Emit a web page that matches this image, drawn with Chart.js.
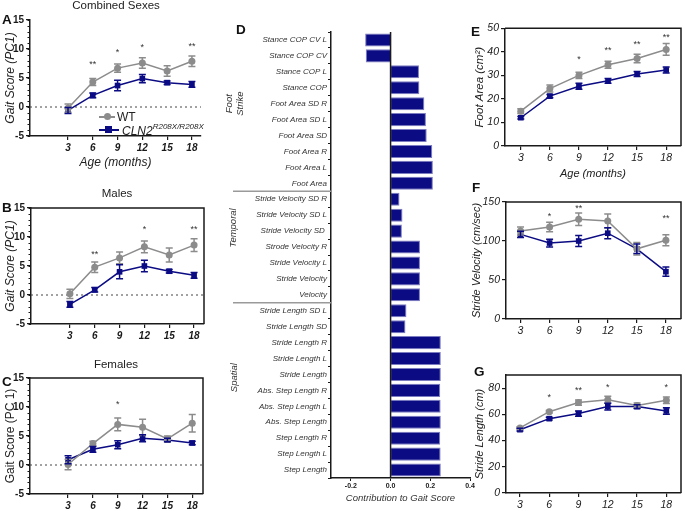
<!DOCTYPE html>
<html>
<head>
<meta charset="utf-8">
<script src="https://cdn.jsdelivr.net/npm/chart.js@4.4.1/dist/chart.umd.min.js"></script>
<style>
  body { margin: 0; width: 685px; height: 511px; position: relative; background: #fff; overflow: hidden;
         font-family: "Liberation Sans", Arial, sans-serif; color: #111; }
  canvas { position: absolute; }
  .letter { position: absolute; font-weight: bold; font-size: 13.5px; line-height: 1; }
  .title { position: absolute; font-size: 11.5px; line-height: 1; transform: translateX(-50%); white-space: nowrap; color: #222; }
  .leg { position: absolute; font-size: 12px; line-height: 1; white-space: nowrap; color: #222; }
  .leg .sw { position: absolute; width: 16px; height: 2px; }
  .leg .mk { position: absolute; width: 7px; height: 7px; }
  .leg sup { font-size: 8px; font-style: italic; position: relative; top: -1px; }
</style>
</head>
<body>
<canvas id="cA" width="210" height="162" style="left:0;top:10px"></canvas>
<canvas id="cB" width="213" height="150" style="left:0;top:195px"></canvas>
<canvas id="cC" width="212" height="146" style="left:0;top:365px"></canvas>
<canvas id="cD" width="252" height="485" style="left:225px;top:20px"></canvas>
<canvas id="cE" width="215" height="162" style="left:470px;top:20px"></canvas>
<canvas id="cF" width="215" height="160" style="left:470px;top:180px"></canvas>
<canvas id="cG" width="215" height="151" style="left:470px;top:360px"></canvas>

<div class="letter" style="left:2px;top:13px">A</div>
<div class="letter" style="left:2px;top:201px">B</div>
<div class="letter" style="left:2px;top:375px">C</div>
<div class="letter" style="left:236px;top:23px">D</div>
<div class="letter" style="left:471px;top:25px">E</div>
<div class="letter" style="left:472px;top:181px">F</div>
<div class="letter" style="left:474px;top:365px">G</div>

<div class="title" style="left:116px;top:0px">Combined Sexes</div>
<div class="title" style="left:117px;top:188px">Males</div>
<div class="title" style="left:116px;top:359px">Females</div>
<div id="legend"></div>

<script>
const GREY = "#8c8c8c";
const NAVY = "#0b0b84";
const INK = "#1a1a1a";
const FONT = "'Liberation Sans', Arial, sans-serif";

const ages = [3, 6, 9, 12, 15, 18];
const gaitTicks = [-5, 0, 5, 10, 15];

// A - combined sexes, gait score
const aWT = [-0.2, 4.3, 6.7, 7.6, 6.2, 7.9];
const aWTErr = [0.7, 0.6, 0.7, 0.9, 0.9, 0.9];
const aCLN = [-0.6, 2.0, 3.7, 4.9, 4.2, 3.9];
const aCLNErr = [0.5, 0.4, 0.9, 0.7, 0.3, 0.5];
const aSig = ["", "**", "*", "*", "", "**"];
const aSigY = [0, 7.8, 9.8, 10.7, 0, 10.8];

// B - males
const bWT = [0.2, 4.8, 6.4, 8.3, 6.9, 8.6];
const bWTErr = [0.8, 0.9, 1.0, 1.0, 1.2, 1.1];
const bCLN = [-1.6, 0.9, 4.0, 5.0, 4.1, 3.4];
const bCLNErr = [0.5, 0.4, 1.2, 1.0, 0.3, 0.5];
const bSig = ["", "**", "", "*", "", "**"];
const bSigY = [0, 7.5, 0, 11.8, 0, 11.8];

// C - females
const cWT = [0.1, 3.7, 7.0, 6.5, 4.5, 7.2];
const cWTErr = [0.9, 0.4, 1.1, 1.4, 0.5, 1.5];
const cCLN = [0.9, 2.7, 3.5, 4.6, 4.3, 3.8];
const cCLNErr = [0.7, 0.5, 0.7, 0.6, 0.3, 0.3];
const cSig = ["", "", "*", "", "", ""];
const cSigY = [0, 0, 10.8, 0, 0, 0];

// D - loadings on PC1
const features = [
  "Stance COP CV L", "Stance COP CV", "Stance COP L", "Stance COP",
  "Foot Area SD R", "Foot Area SD L", "Foot Area SD", "Foot Area R", "Foot Area L", "Foot Area",
  "Stride Velocity SD R", "Stride Velocity SD L", "Stride Velocity SD ", "Strode Velocity R",
  "Stride Velocity L", "Stride Velocity", "Velocity",
  "Stride Length SD L", "Stride Length SD", "Stride Length R", "Stride Length L", "Stride Length",
  "Abs. Step Length R", "Abs. Step Length L", "Abs. Step Length", "Step Length R", "Step Length L", "Step Length"
];
const loadings = [
  -0.128, -0.125, 0.143, 0.145,
  0.170, 0.178, 0.182, 0.210, 0.213, 0.213,
  0.045, 0.060, 0.057, 0.148,
  0.148, 0.148, 0.148,
  0.080, 0.075, 0.253, 0.253, 0.253,
  0.250, 0.252, 0.253, 0.250, 0.252, 0.253
];
const dTicks = [-0.2, 0, 0.2, 0.4];

// E - foot area
const eWT = [14.8, 24.4, 30.0, 34.5, 37.2, 41.0];
const eWTErr = [1.0, 1.5, 1.3, 1.5, 1.8, 2.5];
const eCLN = [12.0, 21.2, 25.4, 27.7, 30.6, 32.3];
const eCLNErr = [0.5, 0.7, 1.3, 1.0, 1.1, 1.3];
const eSig = ["", "", "*", "**", "**", "**"];
const eSigY = [0, 0, 38, 41.6, 44, 47.2];

// F - stride velocity
const fWT = [112.8, 118, 128, 125.6, 90, 101];
const fWTErr = [5, 6, 8, 9, 8, 7];
const fCLN = [108.5, 97.4, 100, 110, 90, 60.7];
const fCLNErr = [4, 5, 7, 7, 6, 6];
const fSig = ["", "*", "**", "", "", "**"];
const fSigY = [0, 134, 145, 0, 0, 132];

// G - stride length
const gWT = [49.6, 62, 69, 71.2, 66.7, 70.7];
const gWTErr = [1, 1, 2, 2.5, 2, 2.5];
const gCLN = [48.3, 56.7, 60.6, 65.9, 65.9, 62.6];
const gCLNErr = [1, 1, 2, 2.5, 1.5, 2.5];
const gSig = ["", "*", "**", "*", "", "*"];
const gSigY = [0, 75, 80, 82, 0, 82];

const fixTicks = (vals) => (s) => { s.ticks = vals.map((v) => ({ value: v })); };

// error bars, asterisks, dotted zero, frame, minor ticks
const extras = {
  id: "extras",
  beforeDatasetsDraw(chart, args, opts) {
    const { ctx, chartArea: a } = chart;
    const y = chart.scales.y;
    ctx.save();
    if (opts.zeroLine) {
      const py = y.getPixelForValue(0);
      ctx.strokeStyle = "#444";
      ctx.lineWidth = 1;
      ctx.setLineDash([2, 3]);
      ctx.beginPath();
      ctx.moveTo(a.left, py);
      ctx.lineTo(a.right, py);
      ctx.stroke();
      ctx.setLineDash([]);
    }
    if (opts.frame) {
      ctx.strokeStyle = INK;
      ctx.lineWidth = 1.5;
      ctx.beginPath();
      ctx.moveTo(a.left, a.top);
      ctx.lineTo(a.right, a.top);
      ctx.lineTo(a.right, a.bottom);
      ctx.stroke();
    }
    if (opts.minor) {
      ctx.strokeStyle = INK;
      ctx.lineWidth = 1;
      for (let v = y.min; v <= y.max; v += opts.minor) {
        const py = Math.round(y.getPixelForValue(v)) + 0.5;
        ctx.beginPath();
        ctx.moveTo(a.left - 2.5, py);
        ctx.lineTo(a.left, py);
        ctx.stroke();
      }
    }
    ctx.restore();
  },
  afterDatasetsDraw(chart, args, opts) {
    const { ctx } = chart;
    const x = chart.scales.x, y = chart.scales.y;
    ctx.save();
    chart.data.datasets.forEach((ds, di) => {
      if (!ds.errors) return;
      const meta = chart.getDatasetMeta(di);
      ctx.strokeStyle = ds.borderColor;
      ctx.lineWidth = 1.5;
      meta.data.forEach((pt, i) => {
        const v = ds.data[i].y, e = ds.errors[i];
        const t = y.getPixelForValue(v + e), b = y.getPixelForValue(v - e);
        ctx.beginPath();
        ctx.moveTo(pt.x, t); ctx.lineTo(pt.x, b);
        ctx.moveTo(pt.x - 3.5, t); ctx.lineTo(pt.x + 3.5, t);
        ctx.moveTo(pt.x - 3.5, b); ctx.lineTo(pt.x + 3.5, b);
        ctx.stroke();
      });
    });
    if (opts.sig) {
      ctx.fillStyle = "#333";
      ctx.font = "9px " + FONT;
      ctx.textAlign = "center";
      ctx.textBaseline = "alphabetic";
      opts.sig.forEach((s, i) => {
        if (!s) return;
        ctx.fillText(s, x.getPixelForValue(ages[i]), y.getPixelForValue(opts.sigY[i]) + 5);
      });
    }
    ctx.restore();
  }
};

function gaitChart(id, c) {
  const series = (label, vals, errs, color, style, r) => ({
    label, data: ages.map((a, i) => ({ x: a, y: vals[i] })), errors: errs,
    borderColor: color, backgroundColor: color, borderWidth: 1.5,
    pointStyle: style, pointRadius: r, pointBorderWidth: 0, tension: 0
  });
  return new Chart(document.getElementById(id), {
    type: "line",
    data: {
      datasets: [
        series("WT", c.wt, c.wtErr, GREY, "circle", 3.5),
        series("CLN2", c.cln, c.clnErr, NAVY, "rect", 4)
      ]
    },
    options: {
      responsive: false,
      animation: false,
      layout: { padding: { top: c.padTop, right: c.padRight, left: 0, bottom: 0 } },
      plugins: {
        legend: { display: false },
        tooltip: { enabled: false },
        extras: { sig: c.sig, sigY: c.sigY, zeroLine: c.zeroLine, frame: c.frame, minor: c.minor }
      },
      scales: {
        x: {
          type: "linear", min: c.xMin, max: c.xMax,
          afterBuildTicks: fixTicks(ages),
          afterFit: (s) => { s.height = c.xH; },
          border: { color: INK, width: 1.5 },
          grid: { drawOnChartArea: false, color: INK, lineWidth: 1.2, tickLength: 4 },
          ticks: { color: INK, padding: 2, maxRotation: 0, font: c.xFont },
          title: { display: !!c.xTitle, text: c.xTitle, color: "#222",
                   font: { family: FONT, size: c.xTitleSize || 12, style: "italic" },
                   padding: { top: 0, bottom: c.xTitlePad || 1.5 } }
        },
        y: {
          min: c.yMin, max: c.yMax,
          afterBuildTicks: fixTicks(c.yTicks),
          afterFit: (s) => { s.width = c.yW; },
          border: { color: INK, width: 1.5 },
          grid: { drawOnChartArea: false, color: INK, lineWidth: 1.2, tickLength: 4 },
          ticks: { color: INK, padding: 2, font: c.yFont },
          title: { display: true, text: c.yTitle, color: "#222",
                   font: { family: FONT, size: c.yTitleSize || 12, style: c.yTitleStyle || "italic" },
                   padding: { top: c.yTitlePad, bottom: 0 } }
        }
      }
    },
    plugins: [extras]
  });
}

const boldItalic = { family: FONT, size: 10, weight: "bold", style: "italic" };
const bold = { family: FONT, size: 10, weight: "bold" };
const italic = { family: FONT, size: 10.5, style: "italic" };

gaitChart("cA", {
  wt: aWT, wtErr: aWTErr, cln: aCLN, clnErr: aCLNErr, sig: aSig, sigY: aSigY,
  padTop: 10, padRight: 9, xH: 36, yW: 30, xMin: -1.6, xMax: 19.1,
  yMin: -5, yMax: 15, yTicks: gaitTicks, minor: 1, zeroLine: true, frame: false,
  xFont: boldItalic, yFont: bold, xTitle: "Age (months)", xTitlePad: 1.8,
  yTitle: "Gait Score (PC1)", yTitlePad: 3
});
gaitChart("cB", {
  wt: bWT, wtErr: bWTErr, cln: bCLN, clnErr: bCLNErr, sig: bSig, sigY: bSigY,
  padTop: 13, padRight: 9, xH: 21, yW: 31, xMin: -1.7, xMax: 19.2,
  yMin: -5, yMax: 15, yTicks: gaitTicks, minor: 1, zeroLine: true, frame: true,
  xFont: boldItalic, yFont: bold, yTitle: "Gait Score (PC1)", yTitlePad: 3
});
gaitChart("cC", {
  wt: cWT, wtErr: cWTErr, cln: cCLN, clnErr: cCLNErr, sig: cSig, sigY: cSigY,
  padTop: 13, padRight: 9, xH: 17, yW: 30, xMin: -1.6, xMax: 19.3,
  yMin: -5, yMax: 15, yTicks: gaitTicks, minor: 1, zeroLine: true, frame: true,
  xFont: boldItalic, yFont: bold, yTitle: "Gait Score (PC 1)", yTitleStyle: "normal", yTitlePad: 3
});
gaitChart("cE", {
  wt: eWT, wtErr: eWTErr, cln: eCLN, clnErr: eCLNErr, sig: eSig, sigY: eSigY,
  padTop: 7, padRight: 2, xH: 36, yW: 35, xMin: 1.37, xMax: 19.53,
  yMin: 0, yMax: 50, yTicks: [0, 10, 20, 30, 40, 50], frame: true,
  xFont: italic, yFont: italic, xTitle: "Age (months)", xTitleSize: 11, xTitlePad: 1.4,
  yTitle: "Foot Area (cm²)", yTitleSize: 11.5, yTitlePad: 3
});
gaitChart("cF", {
  wt: fWT, wtErr: fWTErr, cln: fCLN, clnErr: fCLNErr, sig: fSig, sigY: fSigY,
  padTop: 22, padRight: 2, xH: 21, yW: 36, xMin: 1.5, xMax: 19.56,
  yMin: 0, yMax: 150, yTicks: [0, 50, 100, 150], frame: true,
  xFont: italic, yFont: italic, yTitle: "Stride Velocity (cm/sec)", yTitleSize: 11, yTitlePad: 0
});
gaitChart("cG", {
  wt: gWT, wtErr: gWTErr, cln: gCLN, clnErr: gCLNErr, sig: gSig, sigY: gSigY,
  padTop: 15, padRight: 2, xH: 18, yW: 36, xMin: 1.57, xMax: 19.5,
  yMin: 0, yMax: 90, yTicks: [0, 20, 40, 60, 80], frame: true,
  xFont: italic, yFont: italic, yTitle: "Stride Length (cm)", yTitleSize: 11, yTitlePad: 3
});

// D - horizontal bars with group labels
const groups = {
  id: "groups",
  afterDatasetsDraw(chart) {
    const { ctx, chartArea: a } = chart;
    const x = chart.scales.x, y = chart.scales.y;
    ctx.save();
    ctx.strokeStyle = INK;
    ctx.lineWidth = 1.5;
    const px = x.getPixelForValue(0);
    ctx.beginPath();
    ctx.moveTo(px, a.top);
    ctx.lineTo(px, a.bottom);
    ctx.stroke();
    // separators between feature groups
    ctx.strokeStyle = "#9a9a9a";
    [9.5, 16.5].forEach((v) => {
      const py = y.getPixelForValue(v);
      ctx.beginPath();
      ctx.moveTo(8, py);
      ctx.lineTo(a.left, py);
      ctx.stroke();
    });
    ctx.fillStyle = "#333";
    ctx.font = "italic 9.5px " + FONT;
    ctx.textAlign = "center";
    ctx.textBaseline = "middle";
    [[["Foot", "Strike"], 4.0, 10], [["Temporal"], 11.8, 8], [["Spatial"], 21.2, 9.5]].forEach(([lines, at, cx]) => {
      ctx.save();
      ctx.translate(cx, y.getPixelForValue(at));
      ctx.rotate(-Math.PI / 2);
      lines.forEach((t, i) => ctx.fillText(t, 0, (i - (lines.length - 1) / 2) * 10.5));
      ctx.restore();
    });
    ctx.restore();
  }
};

new Chart(document.getElementById("cD"), {
  type: "bar",
  data: {
    labels: features,
    datasets: [{
      data: loadings,
      backgroundColor: NAVY,
      borderColor: "#7c7cc0",
      borderWidth: 1,
      barPercentage: 0.82,
      categoryPercentage: 1
    }]
  },
  options: {
    indexAxis: "y",
    responsive: false,
    animation: false,
    layout: { padding: { top: 12, right: 7, left: 0, bottom: 0 } },
    plugins: { legend: { display: false }, tooltip: { enabled: false } },
    scales: {
      x: {
        min: -0.3, max: 0.4,
        afterBuildTicks: fixTicks(dTicks),
        afterFit: (s) => { s.height = 27; },
        border: { color: INK, width: 1.5 },
        grid: { drawOnChartArea: false, color: INK, tickLength: 3 },
        ticks: { color: INK, padding: 1, font: { family: FONT, size: 7, weight: "bold" },
                 callback: (v) => v.toFixed(1) },
        title: { display: true, text: "Contribution to Gait Score", color: "#333",
                 font: { family: FONT, size: 9.5, style: "italic" }, padding: { top: 0, bottom: 1.3 } }
      },
      y: {
        afterFit: (s) => { s.width = 106; },
        border: { color: INK, width: 1.5 },
        grid: { drawOnChartArea: false, color: INK, tickLength: 3 },
        ticks: { color: "#333", padding: 1, autoSkip: false, font: { family: FONT, size: 8, style: "italic" } }
      }
    }
  },
  plugins: [groups]
});

// legend for panel A
document.getElementById("legend").innerHTML = `
  <div class="leg" style="left:99px;top:110.5px">
    <span class="sw" style="left:0;top:5px;background:${GREY}"></span>
    <span class="mk" style="left:4.5px;top:2.5px;border-radius:50%;background:${GREY}"></span>
    <span style="position:absolute;left:18px;top:0">WT</span>
  </div>
  <div class="leg" style="left:99px;top:123.5px">
    <span class="sw" style="left:0;top:5px;width:20px;background:${NAVY}"></span>
    <span class="mk" style="left:6px;top:2.5px;background:${NAVY}"></span>
    <span style="position:absolute;left:23px;top:0"><i>CLN2</i><sup>R208X/R208X</sup></span>
  </div>`;
</script>
</body>
</html>
